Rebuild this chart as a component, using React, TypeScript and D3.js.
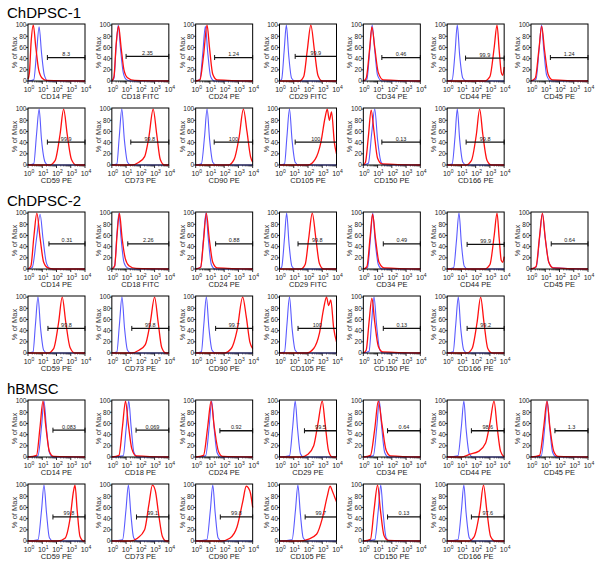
import React from 'react';
import * as d3 from 'd3';

const W = 600;
const H = 563;

const sectionTitles = ['ChDPSC-1', 'ChDPSC-2', 'hBMSC'];

// panel labels per section (row 1 = first 7, row 2 = last 6)
const dpsc1Labels = ['CD14 PE', 'CD18 FITC', 'CD24 PE', 'CD29 FITC', 'CD34 PE', 'CD44 PE', 'CD45 PE',
  'CD59 PE', 'CD73 PE', 'CD90 PE', 'CD105 PE', 'CD150 PE', 'CD166 PE'];
const dpsc2Labels = ['CD14 PE', 'CD18 FITC', 'CD24 PE', 'CD29 FITC', 'CD34 PE', 'CD44 PE', 'CD45 PE',
  'CD59 PE', 'CD73 PE', 'CD90 PE', 'CD105 PE', 'CD150 PE', 'CD166 PE'];
const bmscLabels = ['CD14 PE', 'CD18 PE', 'CD24 PE', 'CD29 PE', 'CD34 PE', 'CD44 PE', 'CD45 PE',
  'CD59 PE', 'CD73 PE', 'CD90 PE', 'CD105 PE', 'CD150 PE', 'CD166 PE'];

// gate percentages, gate start (log10 decade) and gate height (% of max)
const dpsc1Gate = ['8.3', '2.35', '1.24', '99.9', '0.46', '99.9', '1.24', '99.9', '99.8', '100', '100', '0.13', '99.8'];
const dpsc1GateFrom = [1.36, 1.0, 1.33, 1.1, 1.3, 1.29, 1.36, 1.36, 1.33, 1.3, 1.1, 1.3, 1.33];
const dpsc1GateY = [42, 44, 42, 44, 42, 41, 42, 41, 41, 41, 41, 41, 41];

const dpsc2Gate = ['0.31', '2.26', '0.88', '99.8', '0.49', '99.9', '0.64', '99.8', '99.8', '99.7', '100', '0.13', '99.2'];
const dpsc2GateFrom = [1.47, 1.12, 1.4, 1.3, 1.4, 1.4, 1.42, 1.4, 1.4, 1.4, 1.3, 1.4, 1.4];
const dpsc2GateY = [45, 45, 45, 45, 45, 44, 45, 44, 44, 44, 44, 44, 44];

const bmscGate = ['0.083', '0.069', '0.92', '99.5', '0.64', '98.6', '1.3', '99.8', '99.1', '99.8', '99.7', '0.13', '97.6'];
const bmscGateFrom = [1.75, 1.7, 1.7, 1.75, 1.7, 1.7, 1.68, 1.75, 1.73, 1.73, 1.8, 1.7, 1.7];
const bmscGateY = [48, 48, 47, 47, 47, 47, 47, 43, 43, 43, 43, 43, 43];

// histogram outlines: flat [log10 x, % of max, ...]
const dpsc1Blue = [
  [0, 0, 0.4, 2, 0.6, 50, 0.78, 97, 0.95, 50, 1.15, 10, 1.4, 0, 4, 0],
  [0, 0, 0.15, 5, 0.3, 60, 0.45, 100, 0.6, 60, 0.8, 15, 1.0, 3, 1.3, 0, 4, 0],
  [0, 0, 0.3, 3, 0.5, 50, 0.68, 98, 0.85, 50, 1.05, 8, 1.3, 0, 4, 0],
  [0, 0, 0.15, 3, 0.33, 55, 0.48, 100, 0.65, 45, 0.85, 5, 1.1, 0, 4, 0],
  [0, 0, 0.25, 3, 0.45, 55, 0.62, 100, 0.8, 55, 1.0, 10, 1.3, 0, 4, 0],
  [0, 0, 0.35, 2, 0.55, 50, 0.71, 100, 0.88, 45, 1.1, 5, 1.35, 0, 4, 0],
  [0, 0, 0.35, 3, 0.58, 60, 0.74, 100, 0.9, 55, 1.1, 10, 1.4, 0, 4, 0],
  [0, 0, 0.4, 2, 0.6, 55, 0.78, 100, 0.95, 45, 1.2, 5, 1.4, 0, 4, 0],
  [0, 0, 0.35, 2, 0.52, 50, 0.7, 100, 0.88, 45, 1.1, 5, 1.35, 0, 4, 0],
  [0, 0, 0.4, 2, 0.62, 50, 0.8, 100, 0.98, 45, 1.2, 5, 1.45, 0, 4, 0],
  [0, 0, 0.35, 2, 0.52, 50, 0.7, 100, 0.88, 45, 1.1, 5, 1.35, 0, 4, 0],
  [0, 0, 0.35, 3, 0.6, 60, 0.8, 100, 1.0, 45, 1.25, 5, 1.5, 0, 4, 0],
  [0, 0, 0.35, 2, 0.55, 50, 0.71, 100, 0.88, 45, 1.1, 5, 1.35, 0, 4, 0],
];
const dpsc1Red = [
  [0, 3, 0.1, 15, 0.22, 70, 0.37, 100, 0.55, 60, 0.75, 20, 1.0, 5, 1.3, 1, 4, 0],
  [0, 0, 0.15, 8, 0.3, 65, 0.47, 98, 0.65, 60, 0.85, 20, 1.1, 6, 1.6, 1, 4, 0],
  [0, 0, 0.3, 2, 0.55, 45, 0.8, 100, 0.97, 60, 1.2, 12, 1.5, 2, 4, 0],
  [0, 0, 1.4, 0, 1.7, 8, 1.95, 55, 2.2, 100, 2.45, 55, 2.7, 10, 3.0, 0, 4, 0],
  [0, 0, 0.2, 5, 0.45, 60, 0.6, 97, 0.8, 60, 1.05, 15, 1.4, 2, 4, 0],
  [0, 0, 2.6, 0, 3.0, 8, 3.3, 60, 3.5, 100, 3.65, 55, 3.8, 15, 3.9, 10, 4, 25],
  [0, 0, 0.3, 5, 0.55, 55, 0.75, 98, 0.95, 55, 1.2, 12, 1.5, 2, 4, 0],
  [0, 0, 1.5, 0, 1.9, 8, 2.25, 55, 2.5, 100, 2.75, 55, 3.05, 10, 3.4, 0, 4, 0],
  [0, 0, 1.4, 0, 1.9, 5, 2.3, 15, 2.6, 50, 2.9, 100, 3.15, 55, 3.4, 10, 3.7, 0, 4, 0],
  [0, 0, 2.3, 0, 2.7, 10, 3.05, 50, 3.35, 100, 3.6, 60, 3.85, 15, 4, 5],
  [0, 0, 2.0, 0, 2.5, 10, 2.9, 40, 3.2, 85, 3.35, 100, 3.5, 80, 3.65, 95, 3.85, 40, 4, 20],
  [0, 0, 0.15, 5, 0.35, 50, 0.55, 98, 0.75, 60, 1.0, 12, 1.3, 2, 4, 0],
  [0, 0, 1.3, 0, 1.7, 8, 2.05, 55, 2.28, 100, 2.5, 55, 2.8, 8, 3.1, 0, 4, 0],
];

const dpsc2Blue = [
  [0, 0, 0.3, 3, 0.6, 55, 0.85, 98, 1.05, 55, 1.3, 10, 1.6, 0, 4, 0],
  [0, 0, 0.2, 5, 0.35, 60, 0.5, 100, 0.65, 55, 0.85, 12, 1.1, 2, 1.4, 0, 4, 0],
  [0, 0, 0.35, 3, 0.55, 55, 0.72, 100, 0.9, 50, 1.1, 8, 1.35, 0, 4, 0],
  [0, 0, 0.15, 3, 0.35, 55, 0.5, 100, 0.67, 45, 0.87, 5, 1.1, 0, 4, 0],
  [0, 0, 0.3, 3, 0.5, 55, 0.66, 100, 0.83, 50, 1.05, 8, 1.3, 0, 4, 0],
  [0, 0, 0.45, 2, 0.65, 50, 0.83, 100, 1.0, 45, 1.2, 5, 1.45, 0, 4, 0],
  [0, 0, 0.37, 4, 0.61, 58, 0.8, 99, 1.0, 55, 1.25, 12, 1.55, 2, 4, 0],
  [0, 0, 0.35, 2, 0.52, 50, 0.7, 100, 0.88, 45, 1.1, 5, 1.35, 0, 4, 0],
  [0, 0, 0.35, 2, 0.53, 50, 0.71, 100, 0.89, 45, 1.1, 5, 1.35, 0, 4, 0],
  [0, 0, 0.4, 2, 0.57, 50, 0.75, 100, 0.93, 45, 1.15, 5, 1.4, 0, 4, 0],
  [0, 0, 0.35, 2, 0.52, 50, 0.7, 100, 0.88, 45, 1.1, 5, 1.35, 0, 4, 0],
  [0, 0, 0.4, 3, 0.58, 55, 0.75, 100, 0.93, 50, 1.15, 6, 1.4, 0, 4, 0],
  [0, 0, 0.42, 2, 0.6, 50, 0.78, 100, 0.95, 45, 1.17, 5, 1.42, 0, 4, 0],
];
const dpsc2Red = [
  [0, 0, 0.2, 5, 0.42, 60, 0.62, 100, 0.85, 55, 1.1, 12, 1.4, 2, 1.8, 0, 4, 0],
  [0, 0, 0.2, 6, 0.37, 62, 0.53, 100, 0.72, 55, 0.95, 18, 1.2, 6, 1.7, 1, 4, 0],
  [0, 0, 0.35, 3, 0.55, 50, 0.75, 100, 0.95, 55, 1.2, 12, 1.5, 2, 4, 0],
  [0, 0, 1.5, 0, 1.8, 8, 2.05, 55, 2.3, 100, 2.55, 55, 2.8, 10, 3.1, 0, 4, 0],
  [0, 0, 0.25, 4, 0.48, 58, 0.65, 98, 0.85, 55, 1.1, 12, 1.45, 2, 4, 0],
  [0, 0, 2.6, 0, 3.0, 8, 3.3, 60, 3.5, 100, 3.65, 55, 3.8, 15, 3.9, 12, 4, 22],
  [0, 0, 0.35, 4, 0.6, 58, 0.8, 100, 1.0, 55, 1.25, 12, 1.55, 2, 4, 0],
  [0, 0, 1.4, 0, 1.8, 8, 2.15, 55, 2.4, 100, 2.65, 55, 2.95, 10, 3.3, 0, 4, 0],
  [0, 0, 1.4, 0, 1.9, 5, 2.35, 15, 2.7, 55, 3.0, 100, 3.25, 55, 3.5, 10, 3.8, 0, 4, 0],
  [0, 0, 2.0, 0, 2.5, 8, 2.9, 40, 3.3, 100, 3.55, 65, 3.8, 20, 4, 8],
  [0, 0, 1.9, 0, 2.4, 8, 2.8, 35, 3.1, 80, 3.3, 100, 3.45, 85, 3.6, 95, 3.8, 45, 4, 20],
  [0, 0, 0.2, 5, 0.4, 55, 0.6, 98, 0.8, 55, 1.05, 12, 1.35, 2, 4, 0],
  [0, 0, 1.4, 0, 1.75, 8, 2.1, 55, 2.35, 100, 2.58, 55, 2.85, 8, 3.15, 0, 4, 0],
];

const bmscBlue = [
  [0, 0, 0.7, 2, 0.95, 55, 1.12, 100, 1.3, 50, 1.5, 8, 1.75, 0, 4, 0],
  [0, 0, 0.8, 2, 1.0, 50, 1.19, 100, 1.35, 55, 1.55, 8, 1.8, 0, 4, 0],
  [0, 0, 0.7, 2, 0.95, 55, 1.12, 100, 1.3, 50, 1.5, 8, 1.75, 0, 4, 0],
  [0, 0, 0.7, 2, 0.93, 55, 1.1, 100, 1.27, 50, 1.47, 6, 1.7, 0, 4, 0],
  [0, 0, 0.7, 2, 0.95, 55, 1.12, 100, 1.3, 50, 1.5, 8, 1.75, 0, 4, 0],
  [0, 0, 0.75, 2, 1.0, 55, 1.17, 100, 1.33, 50, 1.55, 6, 1.8, 0, 4, 0],
  [0, 0, 0.72, 2, 0.97, 55, 1.14, 100, 1.32, 50, 1.52, 8, 1.78, 0, 4, 0],
  [0, 0, 0.7, 2, 0.95, 55, 1.12, 100, 1.3, 50, 1.5, 6, 1.75, 0, 4, 0],
  [0, 0, 0.75, 2, 0.99, 55, 1.16, 100, 1.33, 50, 1.53, 6, 1.78, 0, 4, 0],
  [0, 0, 0.78, 2, 1.03, 55, 1.2, 100, 1.37, 50, 1.57, 6, 1.82, 0, 4, 0],
  [0, 0, 0.88, 2, 1.12, 55, 1.29, 100, 1.46, 50, 1.66, 6, 1.9, 0, 4, 0],
  [0, 0, 0.8, 2, 1.05, 55, 1.22, 100, 1.39, 50, 1.6, 6, 1.85, 0, 4, 0],
  [0, 0, 0.75, 2, 1.0, 55, 1.17, 100, 1.33, 50, 1.55, 6, 1.8, 0, 4, 0],
];
const bmscRed = [
  [0, 0, 0.6, 3, 0.85, 55, 1.05, 100, 1.25, 55, 1.5, 10, 1.8, 1, 4, 0],
  [0, 0, 0.5, 3, 0.75, 55, 0.96, 100, 1.15, 60, 1.4, 15, 1.7, 2, 4, 0],
  [0, 0, 0.55, 3, 0.85, 55, 1.08, 100, 1.3, 55, 1.6, 10, 1.9, 1, 4, 0],
  [0, 0, 1.5, 0, 2.0, 5, 2.4, 20, 2.7, 60, 3.0, 100, 3.2, 60, 3.45, 10, 3.7, 0, 4, 0],
  [0, 0, 0.5, 3, 0.8, 50, 1.05, 100, 1.3, 60, 1.6, 12, 1.9, 2, 4, 0],
  [0, 0, 1.0, 0, 1.6, 5, 2.2, 10, 2.7, 25, 3.0, 60, 3.29, 100, 3.5, 55, 3.75, 10, 4, 0],
  [0, 0, 0.6, 3, 0.9, 55, 1.12, 100, 1.32, 55, 1.6, 10, 1.9, 1, 4, 0],
  [0, 0, 2.1, 0, 2.6, 5, 2.95, 40, 3.2, 90, 3.3, 100, 3.45, 55, 3.65, 8, 3.9, 0, 4, 0],
  [0, 0, 1.3, 0, 1.8, 5, 2.3, 20, 2.6, 65, 2.85, 100, 3.05, 90, 3.3, 45, 3.55, 8, 3.8, 0, 4, 0],
  [0, 0, 1.8, 0, 2.4, 5, 2.9, 25, 3.3, 70, 3.55, 98, 3.7, 95, 3.85, 85, 4, 60],
  [0, 0, 1.4, 0, 2.0, 3, 2.6, 12, 3.0, 40, 3.35, 80, 3.55, 98, 3.7, 90, 3.85, 80, 4, 70],
  [0, 0, 0.5, 3, 0.75, 55, 1.0, 100, 1.2, 55, 1.45, 10, 1.75, 1, 4, 0],
  [0, 0, 1.5, 0, 1.9, 8, 2.3, 55, 2.55, 100, 2.78, 55, 3.05, 8, 3.35, 0, 4, 0],
];

const yTicks = [0, 20, 40, 60, 80, 100];
const xDecades = [0, 1, 2, 3, 4];

const sections = [
  { labels: dpsc1Labels, gate: dpsc1Gate, from: dpsc1GateFrom, gy: dpsc1GateY, blue: dpsc1Blue, red: dpsc1Red },
  { labels: dpsc2Labels, gate: dpsc2Gate, from: dpsc2GateFrom, gy: dpsc2GateY, blue: dpsc2Blue, red: dpsc2Red },
  { labels: bmscLabels, gate: bmscGate, from: bmscGateFrom, gy: bmscGateY, blue: bmscBlue, red: bmscRed },
];

const PW = 57;
const PH = 57;
const font = 'Arial, "Liberation Sans", sans-serif';

const colX = d3.scaleLinear().domain([0, 6]).range([28, 531]);
const sectionY = d3.scaleLinear().domain([0, 2]).range([24, 400]);
const ROW_GAP = 84;

const x = d3.scaleLog().domain([1, 1e4]).range([0, PW]);
const y = d3.scaleLinear().domain([0, 102]).range([PH, 0]);

const toPts = (flat: number[]) => d3.range(0, flat.length, 2).map(i => [Math.pow(10, flat[i]), flat[i + 1]] as [number, number]);
const line = d3.line<[number, number]>().x(d => x(d[0])).y(d => y(d[1])).curve(d3.curveMonotoneX);

const minorTicks = x.ticks().filter(v => !xDecades.includes(Math.round(Math.log10(v) * 1000) / 1000));

function Panel({ label, gate, from, gy, blue, red }: any) {
  const gx0 = x(Math.pow(10, from));
  const gx1 = x(1e4);
  const gyy = y(gy);
  return (
    <g>
      {/* y axis */}
      <text transform={`translate(-11,${PH / 2}) rotate(-90)`} textAnchor="middle" fontSize={7.5} fill="#333">% of Max</text>
      {yTicks.map(t => (
        <g key={t}>
          <line x1={-2} x2={0} y1={y(t)} y2={y(t)} stroke="#000" strokeWidth={0.8} />
          <text x={-1.5} y={y(t)} dy="0.35em" textAnchor="end" fontSize={6.5} fill="#222">{t}</text>
        </g>
      ))}
      {/* x axis */}
      {minorTicks.map(v => (
        <line key={v} x1={x(v)} x2={x(v)} y1={PH} y2={PH + 1.5} stroke="#000" strokeWidth={0.6} />
      ))}
      {xDecades.map(d => (
        <g key={d}>
          <line x1={x(Math.pow(10, d))} x2={x(Math.pow(10, d))} y1={PH} y2={PH + 3} stroke="#000" strokeWidth={0.8} />
          <text x={x(Math.pow(10, d)) + 1} y={PH + 11} textAnchor="middle" fontSize={7} fill="#222">
            10<tspan dy={-3} fontSize={5}>{d}</tspan>
          </text>
        </g>
      ))}
      <text x={PW / 2} y={PH + 18} textAnchor="middle" fontSize={7.5} fill="#222">{label}</text>
      {/* histograms */}
      <path d={line(toPts(blue)) || ''} fill="none" stroke="#5a5aff" strokeWidth={1.1} />
      <path d={line(toPts(red)) || ''} fill="none" stroke="#ff1010" strokeWidth={1.3} />
      {/* gate */}
      <line x1={gx0} x2={gx1} y1={gyy} y2={gyy} stroke="#111" strokeWidth={1.3} />
      <line x1={gx0} x2={gx0} y1={gyy - 2.5} y2={gyy + 2.5} stroke="#111" strokeWidth={1} />
      <line x1={gx1} x2={gx1} y1={gyy - 2.5} y2={gyy + 2.5} stroke="#111" strokeWidth={1} />
      <text x={(gx0 + gx1) / 2} y={gyy - 1.5} textAnchor="middle" fontSize={5.5} fill="#222">{gate}</text>
      {/* frame */}
      <rect x={0} y={0} width={PW} height={PH} fill="none" stroke="#000" strokeWidth={1} />
    </g>
  );
}

export default function App() {
  return (
    <svg width={W} height={H} style={{ position: 'absolute', left: 0, top: 0, background: '#fff' }} fontFamily={font}>
      <rect width={W} height={H} fill="#fff" />
      {sections.map((s, si) => (
        <g key={si}>
          <text x={7} y={sectionY(si) - 6} fontSize={15} fill="#000">{sectionTitles[si]}</text>
          {s.labels.map((lab, i) => {
            const row = i < 7 ? 0 : 1;
            const col = i < 7 ? i : i - 7;
            return (
              <g key={i} transform={`translate(${colX(col)},${sectionY(si) + row * ROW_GAP})`}>
                <Panel label={lab} gate={s.gate[i]} from={s.from[i]} gy={s.gy[i]} blue={s.blue[i]} red={s.red[i]} />
              </g>
            );
          })}
        </g>
      ))}
    </svg>
  );
}
